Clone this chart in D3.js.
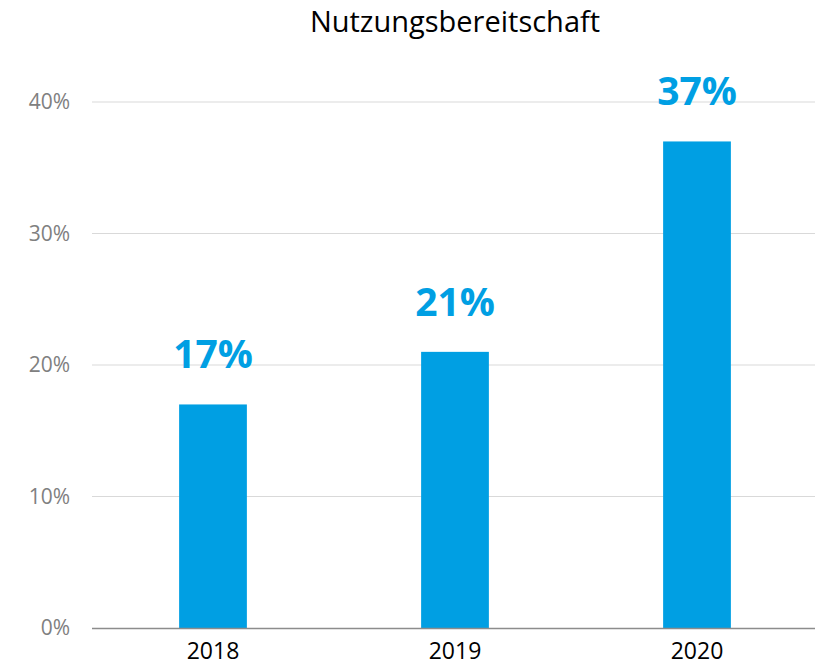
<!DOCTYPE html>
<html>
<head>
<meta charset="utf-8">
<script src="https://cdn.jsdelivr.net/npm/d3@7"></script>
<style>
    body { margin: 0; background: #fff; }
    svg { font-family: "Open Sans", sans-serif; }
</style>
</head>
<body>
<div id="chart-area"></div>
<script>
const years = ["2018", "2019", "2020"];
const values = [17, 21, 37];
const yTicks = [0, 10, 20, 30, 40];
const title = "Nutzungsbereitschaft";

const margin = { left: 92, right: 2 };
const fullW = 820, fullH = 671;
const top0 = 102, bottom0 = 628;
const width = fullW - margin.left - margin.right;

const svg = d3.select("#chart-area")
    .append("svg")
    .attr("width", fullW)
    .attr("height", fullH);

const x = d3.scaleBand()
    .domain(years)
    .range([margin.left, margin.left + width])
    .paddingInner(0.72)
    .paddingOuter(0.36);

const y = d3.scaleLinear()
    .domain([0, 40])
    .range([bottom0, top0]);

// title
svg.append("text")
    .attr("x", 455)
    .attr("y", 32)
    .attr("text-anchor", "middle")
    .attr("font-size", "29px")
    .attr("fill", "#000")
    .text(title);

// gridlines
svg.append("g")
    .selectAll("line")
    .data(yTicks.filter(d => d > 0))
    .enter()
    .append("line")
    .attr("x1", margin.left)
    .attr("x2", 815)
    .attr("y1", d => y(d))
    .attr("y2", d => y(d))
    .attr("stroke", "#d9d9d9")
    .attr("stroke-width", 1);

// y tick labels
const yAxisCall = d3.axisLeft(y)
    .tickValues(yTicks)
    .tickSize(0)
    .tickPadding(22)
    .tickFormat(d => d + "%");
const yAxis = svg.append("g")
    .attr("transform", "translate(" + margin.left + ", 0)")
    .call(yAxisCall);
yAxis.select(".domain").remove();
yAxis.selectAll("text")
    .attr("font-family", "Open Sans, sans-serif")
    .attr("font-size", "21px")
    .attr("fill", "#808080");

// bars
svg.selectAll("rect")
    .data(values)
    .enter()
    .append("rect")
    .attr("x", (d, i) => x(years[i]))
    .attr("y", d => y(d))
    .attr("width", x.bandwidth())
    .attr("height", d => y(0) - y(d))
    .attr("fill", "#009fe3");

// value labels
svg.selectAll(".val")
    .data(values)
    .enter()
    .append("text")
    .attr("class", "val")
    .attr("x", (d, i) => x(years[i]) + x.bandwidth() / 2)
    .attr("y", d => y(d) - 36)
    .attr("text-anchor", "middle")
    .attr("font-size", "39px")
    .attr("font-weight", "bold")
    .attr("fill", "#009fe3")
    .text(d => d + "%");

// x axis
const xAxisCall = d3.axisBottom(x)
    .tickSize(0)
    .tickPadding(15);
const xAxis = svg.append("g")
    .attr("transform", "translate(0, " + bottom0 + ")")
    .call(xAxisCall);
xAxis.select(".domain")
    .attr("d", "M" + margin.left + ",0.5H815")
    .attr("stroke", "#8c8c8c")
    .attr("stroke-width", 1.5);
xAxis.selectAll("text")
    .attr("font-family", "Open Sans, sans-serif")
    .attr("font-size", "23px")
    .attr("fill", "#000");
</script>
</body>
</html>
